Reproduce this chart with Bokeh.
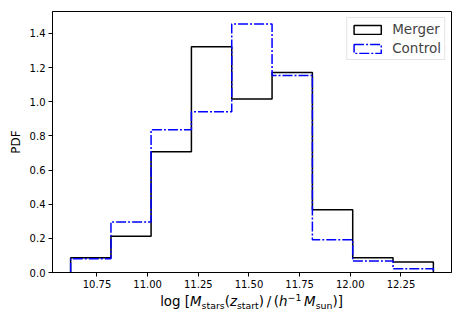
import math
from bokeh.plotting import figure
from bokeh.layouts import column
from bokeh.models import (Legend, LegendItem, FixedTicker, Range1d, Div,
                          NumeralTickFormatter)
from bokeh.embed import file_html
from bokeh.resources import INLINE

# ---------------- data ----------------
bin_edges = [10.620, 10.819, 11.017, 11.216, 11.415, 11.614, 11.813, 12.012, 12.211, 12.410]
merger_pdf = [0.087, 0.212, 0.707, 1.323, 1.016, 1.172, 0.367, 0.087, 0.062]
control_pdf = [0.081, 0.296, 0.836, 0.941, 1.456, 1.154, 0.192, 0.067, 0.022]
series_names = ["Merger", "Control"]
xticks = [10.75, 11.0, 11.25, 11.5, 11.75, 12.0, 12.25]
xtick_labels = ["10.75", "11.00", "11.25", "11.50", "11.75", "12.00", "12.25"]
yticks = [0.0, 0.2, 0.4, 0.6, 0.8, 1.0, 1.2, 1.4]
ytick_labels = ["0.0", "0.2", "0.4", "0.6", "0.8", "1.0", "1.2", "1.4"]
ylabel = "PDF"


def step_outline(edges, heights):
    xs = [edges[0]]
    ys = [0.0]
    for i, h in enumerate(heights):
        xs += [edges[i], edges[i + 1]]
        ys += [h, h]
    xs.append(edges[-1])
    ys.append(0.0)
    return xs, ys


span = bin_edges[-1] - bin_edges[0]
x_range = Range1d(bin_edges[0] - 0.05 * span, bin_edges[-1] + 0.05 * span)
y_range = Range1d(0, 1.05 * max(max(merger_pdf), max(control_pdf)))

FONT = "DejaVu Sans"

p = figure(frame_width=399, frame_height=261, x_range=x_range, y_range=y_range,
           output_backend="svg", toolbar_location=None,
           min_border_left=52, min_border_right=11, min_border_top=11, min_border_bottom=20)
p.background_fill_color = "white"
p.border_fill_color = "white"
p.xgrid.visible = False
p.ygrid.visible = False
p.outline_line_color = "black"
p.outline_line_width = 1

for ax in (p.xaxis[0], p.yaxis[0]):
    ax.axis_line_color = "black"
    ax.axis_line_width = 1
    ax.major_tick_line_color = "black"
    ax.major_tick_line_width = 1
    ax.major_tick_out = 4
    ax.major_tick_in = 0
    ax.minor_tick_out = 0
    ax.minor_tick_in = 0
    ax.major_label_text_font = FONT
    ax.major_label_text_font_size = "10px"
    ax.major_label_text_color = "black"
    ax.major_label_standoff = 3

p.xaxis.ticker = FixedTicker(ticks=xticks)
p.yaxis.ticker = FixedTicker(ticks=yticks)
p.xaxis.formatter = NumeralTickFormatter(format="0.00")
p.yaxis.formatter = NumeralTickFormatter(format="0.0")
p.xaxis.major_label_overrides = {t: l for t, l in zip(xticks, xtick_labels)}
p.yaxis.major_label_overrides = {t: l for t, l in zip(yticks, ytick_labels)}

p.yaxis.axis_label = ylabel
p.yaxis.axis_label_text_font = FONT
p.yaxis.axis_label_text_font_size = "12px"
p.yaxis.axis_label_text_font_style = "normal"
p.yaxis.axis_label_text_color = "black"
p.yaxis.axis_label_standoff = 4

# histograms (step outlines)
mx, my = step_outline(bin_edges, merger_pdf)
cx, cy = step_outline(bin_edges, control_pdf)
p.line(mx, my, line_color="black", line_width=1.5)
p.line(cx, cy, line_color="blue", line_width=1.5, line_dash="10 2 2 2")

# legend proxies (rectangles, not drawn in the plot)
nan = float("nan")
qm = p.quad(left=[nan], right=[nan], top=[nan], bottom=[nan], fill_color=None,
            line_color="black", line_width=1.5)
qc = p.quad(left=[nan], right=[nan], top=[nan], bottom=[nan], fill_color=None,
            line_color="blue", line_width=1.5, line_dash="10 2 2 2")
legend = Legend(items=[LegendItem(label=series_names[0], renderers=[qm], index=0),
                       LegendItem(label=series_names[1], renderers=[qc], index=0)],
                location="top_right", margin=6, padding=3, spacing=3,
                glyph_width=34, glyph_height=11, label_standoff=8,
                label_text_font=FONT, label_text_font_size="13.5px",
                label_height=16,
                border_line_color="#cccccc", border_line_width=1,
                background_fill_color="white", background_fill_alpha=0.8)
p.add_layout(legend)

# x label (HTML with sub/superscripts)
sub = 'style="font-size:9.4px; position:relative; top:2.7px"'
sup = 'style="font-size:9.4px; position:relative; top:-4.7px"'
xlabel_html = (
    f'<div style="width:399px; margin-left:52px; padding-top:2px; text-align:center; '
    f'font-family:\'DejaVu Sans\'; font-size:13.4px; line-height:16px; color:black; '
    f'white-space:nowrap">'
    f'log [<i>M</i><span {sub}>stars</span>(<i>z</i><span {sub}>start</span>)'
    f'&thinsp;/&thinsp;(<i>h</i><span {sup}>\u22121</span>&thinsp;<i>M</i>'
    f'<span {sub}>sun</span>)]</div>'
)
xlab = Div(text=xlabel_html, width=462, height=30,
           styles={"margin": "0px", "padding": "0px"})

layout = column(p, xlab, spacing=0)
open("out.html", "w").write(file_html(layout, INLINE))
